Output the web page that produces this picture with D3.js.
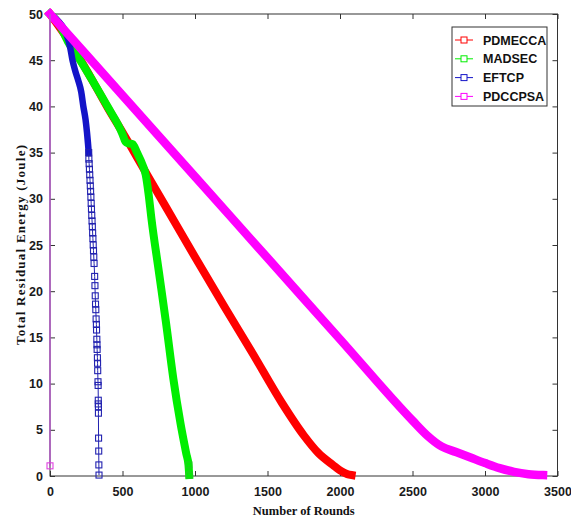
<!DOCTYPE html>
<html>
<head>
<meta charset="utf-8">
<script src="https://cdn.jsdelivr.net/npm/d3@7"></script>
<style>
  html, body { margin: 0; padding: 0; background: #fff; }
  svg { display: block; }
  .tick text { font-family: "Liberation Sans", Arial, sans-serif; font-weight: bold; font-size: 12.5px; fill: #1a1a1a; }
</style>
</head>
<body>
<div id="chart"></div>
<script>
// x ticks / y ticks
const xTicks = [0, 500, 1000, 1500, 2000, 2500, 3000, 3500];
const yTicks = [0, 5, 10, 15, 20, 25, 30, 35, 40, 45, 50];

const seriesNames = ['PDMECCA', 'MADSEC', 'EFTCP', 'PDCCPSA'];
const seriesColors = ['#ff0000', '#00ee00', '#1414c8', '#ff00ff'];

// [round, residual energy]
const pdmecca = [[0,50],[100,47.8],[200,45.3],[300,42.6],[400,39.8],[500,37.2],[600,34.5],
  [800,29.1],[1000,23.7],[1200,18.4],[1400,13.2],[1600,7.9],[1750,4.4],[1850,2.5],
  [1950,1.2],[2000,0.6],[2050,0.2],[2080,0.1]];

const madsec = [[0,50],[60,49],[124,47],[200,45.2],[300,42.6],[400,39.9],[500,37.0],
  [520,36.2],[540,36.0],[570,35.9],[600,35.0],[640,33.6],[660,32.6],[680,30.5],
  [700,27.8],[750,22.2],[800,16.6],[850,10.6],[900,5.7],[940,2.4],[955,1.2],[960,0.1]];
const madsecEnd = [[958,1.2],[960,0.1]];

const eftcpHead = [[0,50],[40,49.5],[80,48.8],[110,48],[140,46.3],[155,45],[175,43.8],
  [195,42.8],[215,41.6],[230,40],[245,38.6],[255,37.2],[262,36],[267,35]];
const eftcpTail = [[267,35.0],[268,34.3],[270,33.8],[272,33.2],[274,32.6],[276,32.0],
  [278,31.4],[280,30.8],[282,30.2],[284,29.5],[286,28.9],[288,28.2],[290,27.6],[292,27.0],
  [294,26.3],[296,25.7],[298,25.0],[300,24.4],[302,23.7],[304,23.0],[308,21.6],[310,20.6],
  [312,19.5],[314,18.6],[316,18.0],[318,17.0],[320,16.4],[321,15.8],[323,14.8],[324,14.2],
  [325,13.7],[327,12.8],[328,12.2],[329,11.4],[331,10.2],[332,9.8],[333,8.2],[333,7.8],
  [334,7.5],[334,6.8],[335,4.1],[336,2.7],[337,1.2],[338,0.1]];

const pdccpsa = [[0,50],[500,41.2],[1000,32.4],[1500,23.6],[2000,14.8],[2500,6.0],
  [2600,4.4],[2700,3.2],[2800,2.6],[2900,2.0],[3000,1.4],[3100,0.85],[3200,0.45],
  [3300,0.2],[3400,0.1]];
const pdccpsaStart = [[0,50],[0,1.1]];

const width = 571, height = 519;
const plotL = 50, plotR = 557.5, plotT = 14, plotB = 476;

const svg = d3.select('#chart').append('svg')
  .attr('width', width)
  .attr('height', height);

const x = d3.scaleLinear().domain([0, 3500]).range([plotL, plotR]);
const y = d3.scaleLinear().domain([0, 50]).range([plotB, plotT]);

const line = d3.line().x(d => x(d[0])).y(d => y(d[1]));
const smooth = d3.line().x(d => x(d[0])).y(d => y(d[1])).curve(d3.curveMonotoneX);

// box
svg.append('rect')
  .attr('x', plotL).attr('y', plotT)
  .attr('width', plotR - plotL).attr('height', plotB - plotT)
  .attr('fill', 'none').attr('stroke', '#333').attr('stroke-width', 1);

const axisColor = g => {
  g.select('.domain').remove();
  g.selectAll('.tick line').attr('stroke', '#333');
};

svg.append('g').attr('transform', `translate(0,${plotB})`)
  .call(d3.axisBottom(x).tickValues(xTicks).tickFormat(d3.format('d'))
    .tickSizeInner(-5).tickSizeOuter(0).tickPadding(11))
  .call(axisColor);
svg.append('g').attr('transform', `translate(0,${plotT})`)
  .call(d3.axisTop(x).tickValues(xTicks).tickSizeInner(-5).tickSizeOuter(0).tickFormat(''))
  .call(axisColor);
svg.append('g').attr('transform', `translate(${plotL},0)`)
  .call(d3.axisLeft(y).tickValues(yTicks).tickSizeInner(-5).tickSizeOuter(0).tickPadding(7))
  .call(axisColor);
svg.append('g').attr('transform', `translate(${plotR},0)`)
  .call(d3.axisRight(y).tickValues(yTicks).tickSizeInner(-5).tickSizeOuter(0).tickFormat(''))
  .call(axisColor);

svg.selectAll('.tick text').attr('fill', '#1a1a1a');

function band(data, color, w) {
  svg.append('path').datum(data)
    .attr('d', smooth)
    .attr('fill', 'none')
    .attr('stroke', color)
    .attr('stroke-width', w)
    .attr('stroke-linejoin', 'round')
    .attr('stroke-linecap', 'square');
}

function markers(data, color, size) {
  svg.append('path').datum(data)
    .attr('d', line)
    .attr('fill', 'none')
    .attr('stroke', color)
    .attr('stroke-width', 1);
  svg.append('g').selectAll('rect').data(data).join('rect')
    .attr('x', d => x(d[0]) - size / 2)
    .attr('y', d => y(d[1]) - size / 2)
    .attr('width', size).attr('height', size)
    .attr('fill', 'none')
    .attr('stroke', color)
    .attr('stroke-width', 1.1);
}

// drawing order as plotted
band(pdmecca, seriesColors[0], 8);
band(madsec, seriesColors[1], 8);
markers(madsecEnd, '#22cc22', 6);
band(eftcpHead, seriesColors[2], 6.5);
markers(eftcpTail, '#2222b0', 6);
band(pdccpsa, seriesColors[3], 8.5);
svg.append('path').datum(pdccpsaStart)
  .attr('d', line).attr('fill', 'none')
  .attr('stroke', '#b45ac8').attr('stroke-width', 1.5);
svg.append('rect')
  .attr('x', x(0) - 3).attr('y', y(1.1) - 3)
  .attr('width', 6).attr('height', 6)
  .attr('fill', 'none').attr('stroke', '#e040e0').attr('stroke-width', 1.1);

// legend
const lg = svg.append('g');
lg.append('rect')
  .attr('x', 452).attr('y', 27).attr('width', 95).attr('height', 79)
  .attr('fill', '#fff').attr('stroke', '#333').attr('stroke-width', 1);
seriesNames.forEach((name, i) => {
  const yy = 40 + i * 18.8;
  lg.append('line')
    .attr('x1', 455).attr('x2', 473).attr('y1', yy).attr('y2', yy)
    .attr('stroke', seriesColors[i]).attr('stroke-width', 1);
  lg.append('rect')
    .attr('x', 461).attr('y', yy - 3).attr('width', 6).attr('height', 6)
    .attr('fill', '#fff').attr('stroke', seriesColors[i]).attr('stroke-width', 1);
  lg.append('text')
    .attr('x', 483).attr('y', yy).attr('dy', '0.36em')
    .attr('font-family', '"Liberation Sans", Arial, sans-serif')
    .attr('font-weight', 'bold').attr('font-size', 12.5)
    .attr('fill', '#111')
    .text(name);
});

// axis titles
svg.append('text')
  .attr('x', (plotL + plotR) / 2).attr('y', 515)
  .attr('text-anchor', 'middle')
  .attr('font-family', '"Liberation Serif", "Times New Roman", serif')
  .attr('font-weight', 'bold').attr('font-size', 12.5)
  .attr('fill', '#111')
  .text('Number of Rounds');

svg.append('text')
  .attr('transform', `translate(25,${(plotT + plotB) / 2}) rotate(-90)`)
  .attr('text-anchor', 'middle')
  .attr('font-family', '"Liberation Serif", "Times New Roman", serif')
  .attr('font-weight', 'bold').attr('font-size', 13)
  .attr('textLength', 200).attr('lengthAdjust', 'spacing')
  .attr('fill', '#111')
  .text('Total Residual Energy (Joule)');
</script>
</body>
</html>
